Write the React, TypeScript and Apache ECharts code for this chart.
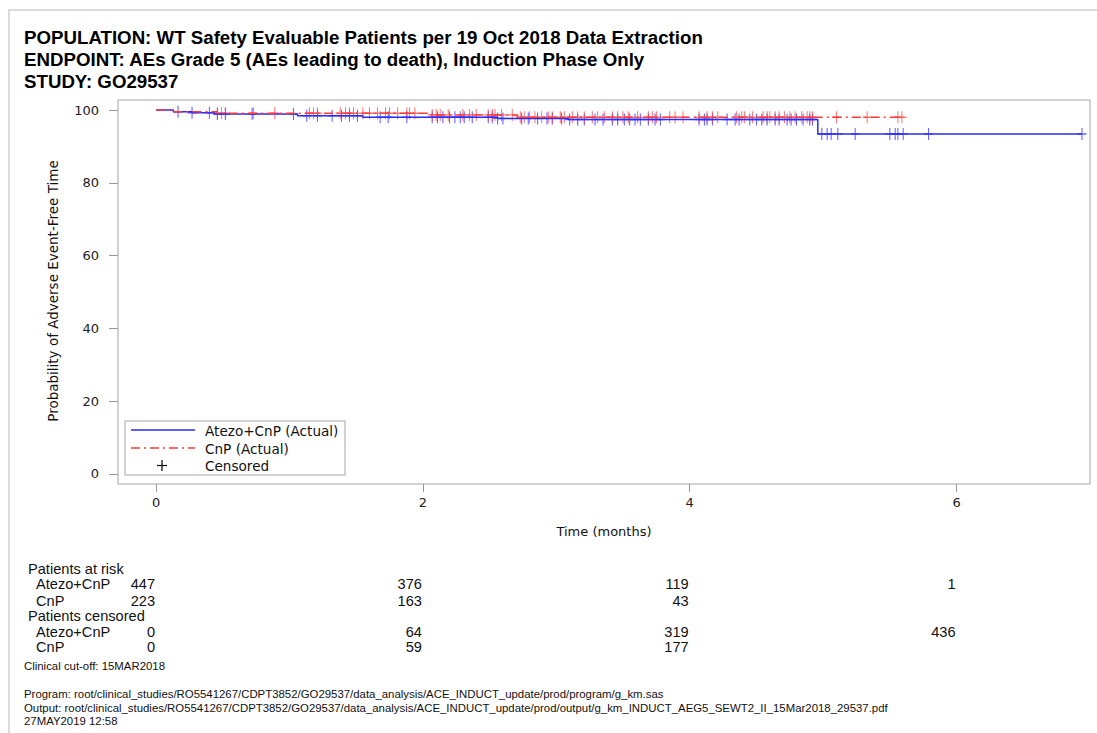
import React, { useEffect, useRef } from "react";
import * as echarts from "echarts";

// ---- Data ----
const titleLines = [
  "POPULATION: WT Safety Evaluable Patients per 19 Oct 2018 Data Extraction",
  "ENDPOINT: AEs Grade 5 (AEs leading to death), Induction Phase Only",
  "STUDY: GO29537",
];
const seriesNames = ["Atezo+CnP (Actual)", "CnP (Actual)"];
const censoredLabel = "Censored";
const xAxisName = "Time (months)";
const yAxisName = "Probability of Adverse Event-Free Time";

// Kaplan-Meier step points [time (months), probability %]
const atezoSteps: [number, number][] = [
  [0, 100], [0.13, 99.5], [0.27, 99.25], [0.44, 98.9], [1.06, 98.4], [1.55, 98.0],
  [2.56, 97.7], [3.09, 97.4], [4.96, 93.4], [6.94, 93.4],
];
const cnpSteps: [number, number][] = [
  [0, 100], [0.12, 99.55], [0.46, 99.1], [2.04, 98.65], [2.71, 98.0], [5.6, 98.0],
];

// censoring times (months)
const atezoCensored = [
  0.165, 0.27, 0.4, 0.46, 0.52, 0.72, 1.03, 1.13, 1.21, 1.32, 1.39, 1.45, 1.51, 1.68, 1.74,
  1.88, 2.07, 2.11, 2.15, 2.2, 2.24, 2.28, 2.31, 2.37, 2.49, 2.52, 2.56, 2.6, 2.74, 2.79,
  2.86, 2.93, 2.97, 3.04, 3.1, 3.16, 3.21, 3.29, 3.35, 3.42, 3.46, 3.51, 3.55, 3.59, 3.63,
  3.69, 3.74, 3.78, 4.07, 4.11, 4.13, 4.17, 4.28, 4.34, 4.37, 4.45, 4.5, 4.54, 4.58, 4.64,
  4.67, 4.73, 4.76, 4.8, 4.85, 4.9, 4.92, 4.99, 5.03, 5.06, 5.11, 5.24, 5.5, 5.54, 5.56,
  5.6, 5.79, 6.94,
];
const cnpCensored = [
  0.46, 0.49, 0.52, 0.73, 0.89, 1.15, 1.18, 1.21, 1.38, 1.42, 1.45, 1.48, 1.55, 1.6, 1.66,
  1.72, 1.75, 1.81, 1.88, 1.9, 1.94, 2.07, 2.1, 2.13, 2.19, 2.3, 2.35, 2.4, 2.49, 2.52,
  2.54, 2.59, 2.67, 2.73, 2.76, 2.8, 2.84, 2.89, 2.94, 2.97, 3.03, 3.06, 3.12, 3.16, 3.21,
  3.27, 3.31, 3.36, 3.42, 3.46, 3.5, 3.54, 3.61, 3.69, 3.72, 3.75, 3.85, 3.89, 3.95, 4.07,
  4.13, 4.17, 4.21, 4.35, 4.39, 4.41, 4.47, 4.55, 4.58, 4.6, 4.64, 4.67, 4.71, 4.75, 4.79,
  4.84, 4.88, 4.9, 4.92, 5.1, 5.33, 5.56, 5.59,
];

const xTicks = [0, 2, 4, 6];
const yTicks = [0, 20, 40, 60, 80, 100];

// Risk table
const riskTimes = [0, 2, 4, 6];
const atRiskAtezo: (number | null)[] = [447, 376, 119, 1];
const atRiskCnP: (number | null)[] = [223, 163, 43, null];
const censAtezo: (number | null)[] = [0, 64, 319, 436];
const censCnP: (number | null)[] = [0, 59, 177, null];
const armLabels = ["Atezo+CnP", "CnP"];
const tableHeaders = ["Patients at risk", "Patients censored"];

const footnotes = [
  "Program: root/clinical_studies/RO5541267/CDPT3852/GO29537/data_analysis/ACE_INDUCT_update/prod/program/g_km.sas",
  "Output: root/clinical_studies/RO5541267/CDPT3852/GO29537/data_analysis/ACE_INDUCT_update/prod/output/g_km_INDUCT_AEG5_SEWT2_II_15Mar2018_29537.pdf",
  "27MAY2019 12:58",
];
const cutoffNote = "Clinical cut-off: 15MAR2018";

const BLUE = "#2b2bff";
const RED = "#ff3a3a";

function stepValue(steps: [number, number][], t: number) {
  let v = steps[0][1];
  for (const [x, y] of steps) if (x <= t) v = y;
  return v;
}

const PLUS = "path://M5,0 L5,12 M0,6 L10,6";

export default function App() {
  const ref = useRef<HTMLDivElement>(null);
  useEffect(() => {
    const chart = echarts.init(ref.current!, null, { renderer: "svg" });
    const axisFont = "DejaVu Sans";
    chart.setOption({
      animation: false,
      grid: {
        left: 118,
        right: 7,
        top: 100,
        bottom: 249,
        show: true,
        borderColor: "#c4c4c4",
        borderWidth: 1.5,
        backgroundColor: "#fff",
      },
      xAxis: {
        type: "value",
        min: -0.285,
        max: 7.0,
        name: xAxisName,
        nameLocation: "middle",
        nameGap: 41,
        nameTextStyle: { fontFamily: axisFont, fontSize: 13, color: "#111" },
        axisLine: { show: false, onZero: false },
        splitLine: { show: false },
        axisTick: { show: true, length: 8, lineStyle: { color: "#999" }, customValues: xTicks },
        axisLabel: { margin: 12, fontFamily: axisFont, fontSize: 13, color: "#222", customValues: xTicks },
      },
      yAxis: {
        type: "value",
        min: -2.75,
        max: 102.75,
        axisLine: { show: false, onZero: false },
        splitLine: { show: false },
        axisTick: { show: true, length: 9, lineStyle: { color: "#999" }, customValues: yTicks },
        axisLabel: { margin: 19, fontFamily: axisFont, fontSize: 13, color: "#222", customValues: yTicks },
      },
      series: [
        {
          name: seriesNames[0],
          type: "line",
          step: "end",
          data: atezoSteps,
          symbol: "none",
          silent: true,
          lineStyle: { color: BLUE, width: 1.5 },
          z: 3,
        },
        {
          name: seriesNames[1],
          type: "line",
          step: "end",
          data: cnpSteps,
          symbol: "none",
          silent: true,
          lineStyle: { color: RED, width: 1.5, type: [9, 4, 2, 4] },
          z: 4,
        },
        {
          name: "Atezo censored",
          type: "scatter",
          data: atezoCensored.map((t) => [t, stepValue(atezoSteps, t)]),
          symbol: PLUS,
          symbolSize: [9, 12],
          silent: true,
          itemStyle: { color: "transparent", borderColor: BLUE, borderWidth: 1.2, opacity: 0.75 },
          z: 2,
        },
        {
          name: "CnP censored",
          type: "scatter",
          data: cnpCensored.map((t) => [t, stepValue(cnpSteps, t)]),
          symbol: PLUS,
          symbolSize: [9, 12],
          silent: true,
          itemStyle: { color: "transparent", borderColor: RED, borderWidth: 1.2, opacity: 0.7 },
          z: 2,
        },
      ],
    });

    const tx = (t: number) => chart.convertToPixel({ xAxisIndex: 0 }, t) as number;
    const tableFont = "Liberation Sans";
    const txt = (x: number, y: number, s: string, opts: any = {}) => ({
      type: "text",
      x,
      y,
      silent: true,
      rotation: opts.rotation || 0,
      style: {
        text: s,
        fontFamily: opts.fontFamily || tableFont,
        fontSize: opts.fontSize || 15,
        lineHeight: opts.lineHeight,
        fontWeight: opts.fontWeight || "normal",
        fill: opts.fill || "#111",
        align: opts.align || "left",
        verticalAlign: "middle",
      },
    });

    const graphics: any[] = [];
    // outer page frame
    graphics.push({
      type: "rect",
      shape: { x: 9, y: 10, width: 1100, height: 740 },
      style: { fill: "none", stroke: "#d0d0d0", lineWidth: 1.5 },
      silent: true,
    });
    titleLines.forEach((s, i) =>
      graphics.push(txt(24, 37 + i * 22, s, { fontSize: 18.7, fontWeight: "bold", fill: "#000" }))
    );
    // y axis title
    graphics.push(
      txt(53, 291, yAxisName, { fontFamily: axisFont, fontSize: 13.5, align: "center", rotation: Math.PI / 2 })
    );

    // legend
    graphics.push({
      type: "rect",
      shape: { x: 125, y: 421, width: 220, height: 54 },
      style: { fill: "#fff", stroke: "#c4c4c4", lineWidth: 1.5 },
      z: 10,
      silent: true,
    });
    graphics.push({
      type: "line",
      shape: { x1: 131, y1: 430, x2: 195, y2: 430 },
      style: { stroke: BLUE, lineWidth: 1.5 },
      z: 11,
    });
    graphics.push({
      type: "line",
      shape: { x1: 131, y1: 448, x2: 195, y2: 448 },
      style: { stroke: RED, lineWidth: 1.5, lineDash: [9, 4, 2, 4] },
      z: 11,
    });
    graphics.push({
      type: "line",
      shape: { x1: 162, y1: 460, x2: 162, y2: 471 },
      style: { stroke: "#000", lineWidth: 1.2 },
      z: 11,
    });
    graphics.push({
      type: "line",
      shape: { x1: 157, y1: 465.5, x2: 167, y2: 465.5 },
      style: { stroke: "#000", lineWidth: 1.2 },
      z: 11,
    });
    [seriesNames[0], seriesNames[1], censoredLabel].forEach((s, i) => {
      const g: any = txt(205, 431 + i * 17.5, s, { fontFamily: "DejaVu Sans", fontSize: 13.6, lineHeight: 15 });
      g.z = 11;
      graphics.push(g);
    });

    // risk table
    const rowY = [568.5, 584, 601, 616, 632, 647];
    const tOpts = { lineHeight: 13, fontSize: 14.6 };
    graphics.push(txt(28, rowY[0], tableHeaders[0], tOpts));
    graphics.push(txt(36, rowY[1], armLabels[0], tOpts));
    graphics.push(txt(36, rowY[2], armLabels[1], tOpts));
    graphics.push(txt(28, rowY[3], tableHeaders[1], tOpts));
    graphics.push(txt(36, rowY[4], armLabels[0], tOpts));
    graphics.push(txt(36, rowY[5], armLabels[1], tOpts));
    const rows: [(number | null)[], number][] = [
      [atRiskAtezo, rowY[1]],
      [atRiskCnP, rowY[2]],
      [censAtezo, rowY[4]],
      [censCnP, rowY[5]],
    ];
    rows.forEach(([vals, y]) => {
      vals.forEach((v, i) => {
        if (v === null) return;
        graphics.push(txt(tx(riskTimes[i]) - 1, y, String(v), { ...tOpts, align: "right" }));
      });
    });
    graphics.push(txt(24, 666, cutoffNote, { fontSize: 11.4, lineHeight: 12 }));
    footnotes.forEach((s, i) =>
      graphics.push(txt(24, 694 + i * 13.5, s, { fontSize: 11.4, lineHeight: 12 }))
    );

    chart.setOption({ graphic: graphics });
    return () => chart.dispose();
  }, []);
  return (
    <div
      ref={ref}
      style={{ position: "absolute", left: 0, top: 0, width: 1097, height: 733, background: "#fff" }}
    />
  );
}
